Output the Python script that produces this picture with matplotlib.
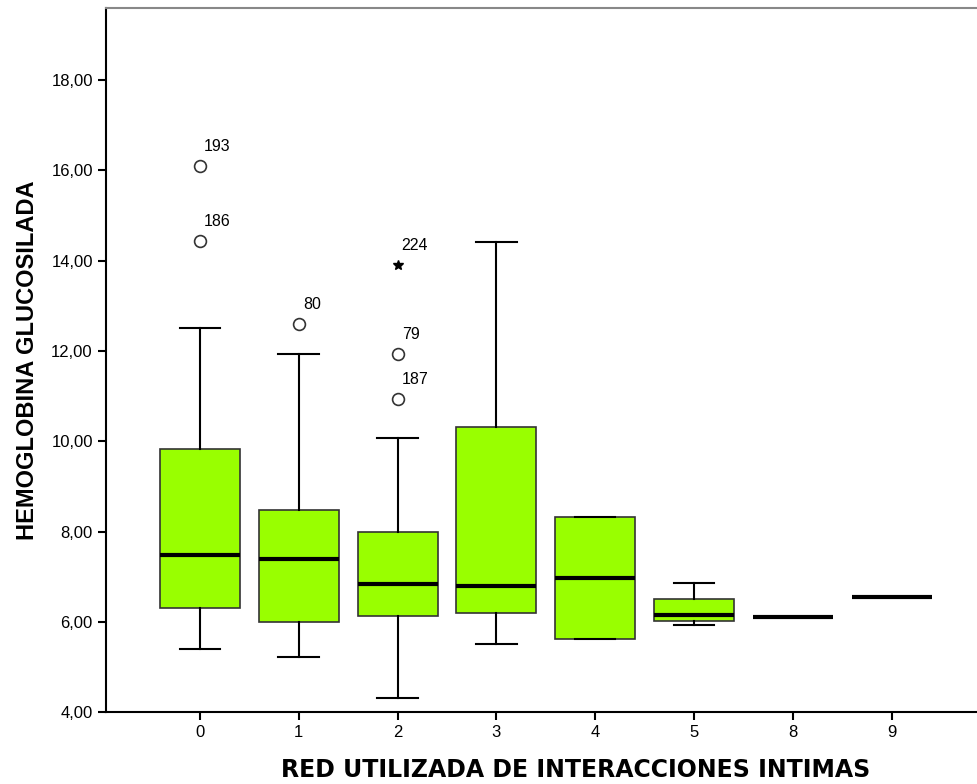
import matplotlib.pyplot as plt
from matplotlib.ticker import FuncFormatter

plt.rcParams['font.family'] = ['Liberation Sans', 'DejaVu Sans']

# categories on the x axis
categories = ['0', '1', '2', '3', '4', '5', '8', '9']

# box statistics
q1 = [6.31, 6.00, 6.13, 6.20, 5.62, 6.02, 6.10, 6.55]
q3 = [9.82, 8.47, 7.98, 10.31, 8.32, 6.51, 6.10, 6.55]
medians = [7.49, 7.38, 6.84, 6.79, 6.97, 6.15, 6.10, 6.55]
whislo = [5.40, 5.22, 4.31, 5.51, 5.62, 5.93, 6.10, 6.55]
whishi = [12.51, 11.93, 10.07, 14.42, 8.32, 6.86, 6.10, 6.55]

# outliers (circles) and extremes (stars) with case labels
out_cat = [0, 0, 1, 2, 2]
out_val = [16.09, 14.44, 12.60, 11.93, 10.93]
out_lab = ['193', '186', '80', '79', '187']
ext_cat = [2]
ext_val = [13.90]
ext_lab = ['224']


def main():
    fig = plt.figure(figsize=(9.77, 7.84), dpi=100)
    # the plot frame runs past the right edge of the picture
    ax = fig.add_axes([0.1085, 0.0918, 0.962, 0.898])

    stats = []
    for i in range(len(categories)):
        stats.append({
            'med': medians[i], 'q1': q1[i], 'q3': q3[i],
            'whislo': whislo[i], 'whishi': whishi[i], 'fliers': [],
        })

    ax.bxp(stats, positions=range(len(categories)), widths=0.81,
           patch_artist=True, showfliers=False,
           boxprops=dict(facecolor='#99ff00', edgecolor='#333333', linewidth=1.2),
           medianprops=dict(color='black', linewidth=3),
           whiskerprops=dict(color='black', linewidth=1.5),
           capprops=dict(color='black', linewidth=1.5),
           capwidths=0.41)

    ax.plot(out_cat, out_val, 'o', markerfacecolor='white',
            markeredgecolor='#333333', markersize=8.5, markeredgewidth=1.2)
    ax.plot(ext_cat, ext_val, '*', color='black', markersize=7)
    for c, v, t in zip(out_cat + ext_cat, out_val + ext_val, out_lab + ext_lab):
        ax.annotate(t, (c, v), xytext=(3, 14), textcoords='offset points',
                    fontsize=11.5, ha='left', va='center')

    ax.set_xlim(-0.95, 8.56)
    ax.set_ylim(4, 19.6)
    ax.set_xticks(range(len(categories)))
    ax.set_xticklabels(categories)
    ax.set_yticks([4, 6, 8, 10, 12, 14, 16, 18])
    ax.yaxis.set_major_formatter(FuncFormatter(lambda v, p: f'{v:.2f}'.replace('.', ',')))
    ax.tick_params(axis='both', labelsize=12, width=1.5, length=6, direction='out')

    ax.spines['right'].set_visible(False)
    ax.spines['top'].set_color('#888888')
    ax.spines['top'].set_linewidth(1.5)
    ax.spines['left'].set_linewidth(1.5)
    ax.spines['bottom'].set_linewidth(1.5)

    ax.set_xlabel('RED UTILIZADA DE INTERACCIONES INTIMAS', fontsize=17,
                  fontweight='bold', family=['DejaVu Sans'], labelpad=13)
    ax.set_ylabel('HEMOGLOBINA GLUCOSILADA', fontsize=17,
                  fontweight='bold', labelpad=9)

    fig.savefig('out.png', dpi=100)


if __name__ == "__main__":
    main()
